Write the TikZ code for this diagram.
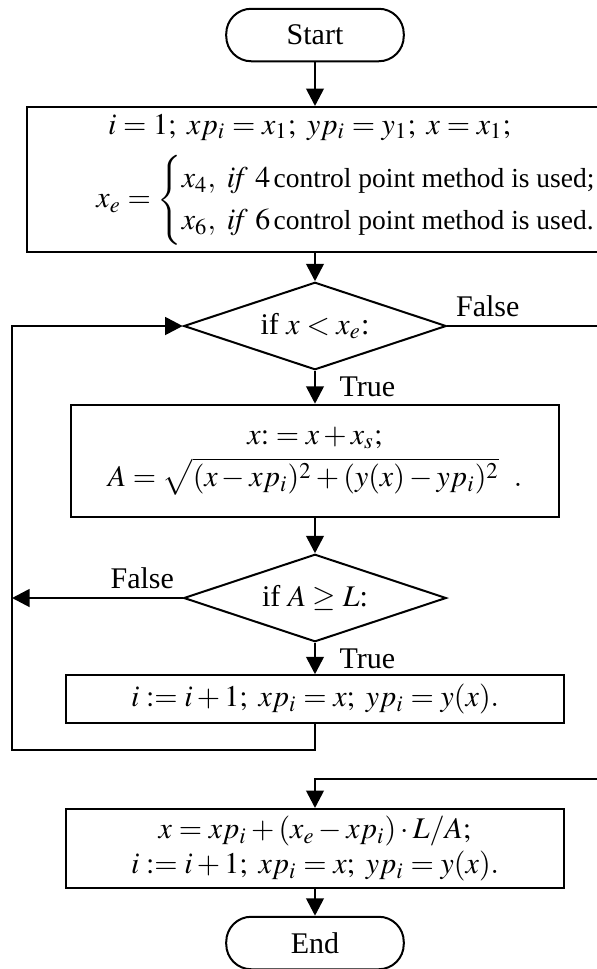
\documentclass[tikz,border=0pt]{standalone}
\usepackage{amsmath}
\usepackage{mathptmx}
\usepackage[no-math]{fontspec}
\setmainfont{Liberation Serif}
\usetikzlibrary{shapes.geometric,arrows.meta}

\tikzset{
  every node/.style={font=\fontsize{12}{14}\selectfont},
  term/.style={draw,line width=0.8pt,rounded corners=10pt,minimum width=71pt,minimum height=21pt},
  proc/.style={draw,line width=0.8pt,align=center,inner sep=2pt},
  cond/.style={draw,diamond,line width=0.8pt,aspect=3,inner sep=0pt,minimum width=105pt,minimum height=35pt},
  arr/.style={-{Triangle[length=7pt,width=7pt]},line width=1.1pt}
}
\newcommand{\cpm}[1]{\text{\fontsize{11}{13}\selectfont #1}}

\begin{document}
\begin{tikzpicture}[x=0.4pt,y=-0.4pt]
\clip (0,0) rectangle (597,969);

\node[term] (start) at (315,35) {Start};
\node[proc,anchor=west,minimum width=262pt,minimum height=58pt] (init) at (26,179.5)
  {\hspace*{-36pt}$i=1;\ xp_i=x_1;\ yp_i=y_1;\ x=x_1;$\\[5pt]
   \hspace*{6pt}$x_e=\begin{cases} x_4,\ \mathit{if}\ 4\,\cpm{control point method is used;}\\
   x_6,\ \mathit{if}\ 6\,\cpm{control point method is used.}\end{cases}$};
\node[cond] (cmpx) at (315,326) {if $x<x_e$:};
\node[proc,minimum width=195pt,minimum height=45pt] (step) at (315,461)
  {$x{:}\;{=}\;x+x_s;$\\[3pt] $A=\sqrt{(x-xp_i)^2+(y(x)-yp_i)^2}\ \ .$};
\node[cond] (cmpA) at (315,598) {if $A\geq L$:};
\node[proc,minimum width=199pt,minimum height=19pt] (upd) at (315,699)
  {$i:=i+1;\ xp_i=x;\ yp_i=y(x).$};
\node[proc,minimum width=199pt,minimum height=31.6pt] (fin) at (315,848.5)
  {$x=xp_i+(x_e-xp_i)\cdot L/A;$\\ $i:=i+1;\ xp_i=x;\ yp_i=y(x).$};
\node[term] (stop) at (315,943) {End};

\coordinate (lp) at (12,750);
\coordinate (rp) at (680,779);

\draw[arr] (start) -- (start |- init.north);
\draw[arr] (cmpx |- init.south) -- (cmpx);
\draw[arr] (cmpx) -- node[right,xshift=6pt] (t1) {True} (step);
\draw[arr] (cmpx) -- (cmpx -| rp) -- (rp) -- (rp -| fin) -- (fin);
\node[above right] (f1) at (cmpx.east) {False};
\draw[arr] (step) -- (cmpA);
\draw[arr] (cmpA) -- node[right,xshift=6pt] (t2) {True} (upd);
\draw[arr] (cmpA) -- (cmpA -| lp);
\node[above left] (f2) at (cmpA.west) {False};
\draw[arr] (upd) -- (upd |- lp) -- (lp) -- (lp |- cmpx) -- (cmpx);
\draw[arr] (fin) -- (stop);
\end{tikzpicture}
\end{document}
